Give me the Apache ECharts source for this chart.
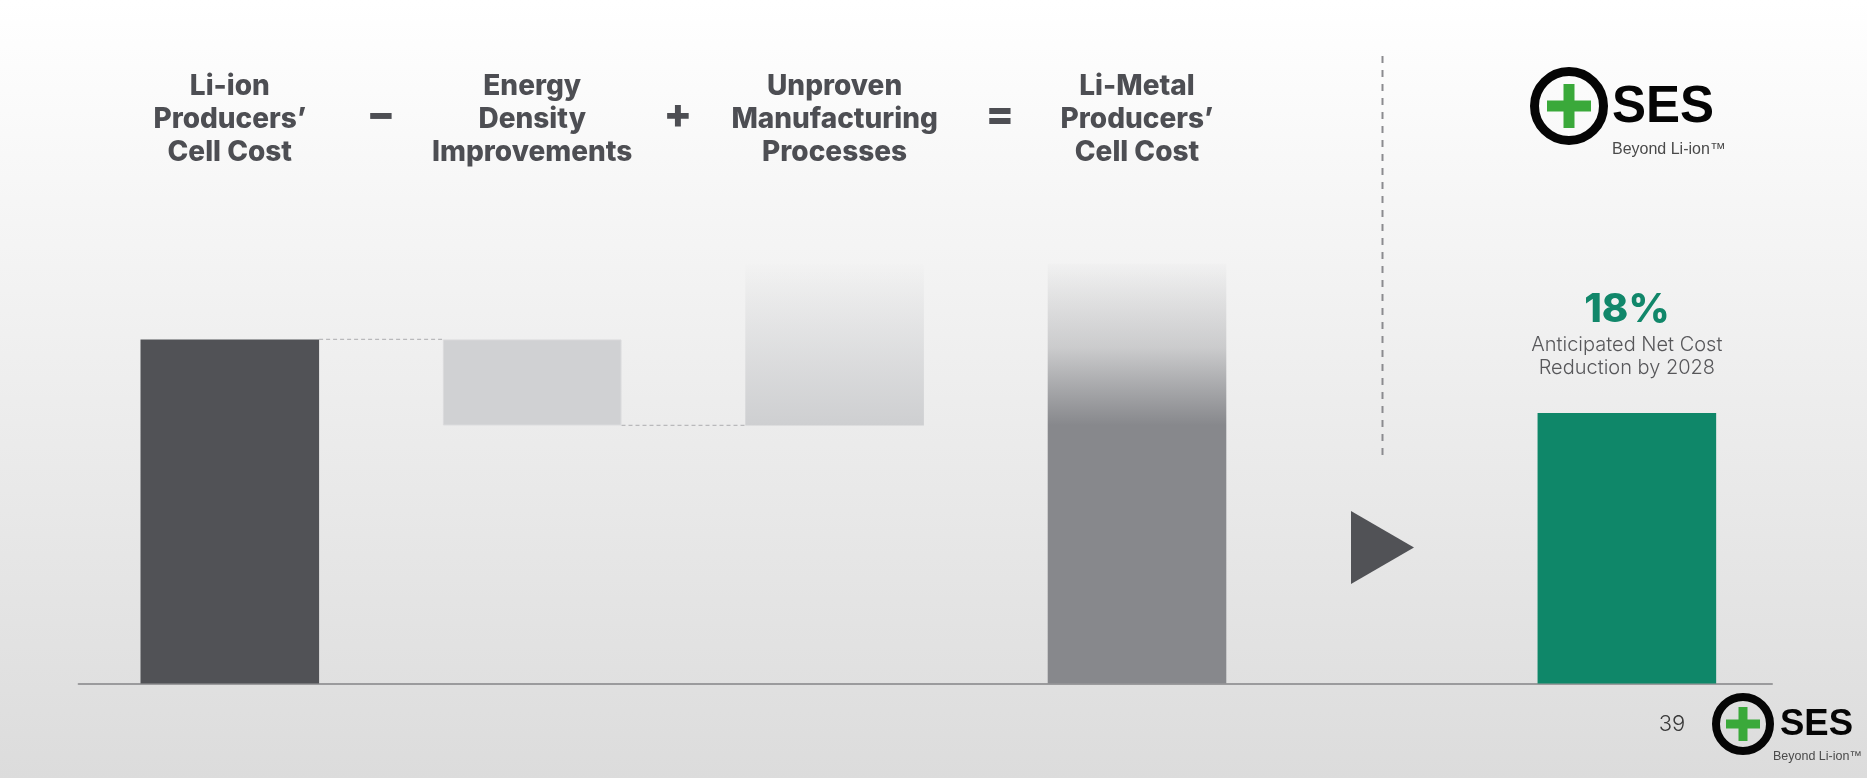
<!DOCTYPE html>
<html>
<head>
<meta charset="utf-8">
<title>Li-Metal cell cost build-up</title>
<script src="https://cdn.jsdelivr.net/npm/echarts@6/dist/echarts.min.js"></script>
<style>
  html, body { margin: 0; padding: 0; }
  #chart { width: 1867px; height: 778px; }
</style>
</head>
<body>
<div id="chart"></div>
<script>
// Column headers of the cost equation
const categories = [
  'Li-ion\nProducers’\nCell Cost',
  'Energy\nDensity\nImprovements',
  'Unproven\nManufacturing\nProcesses',
  'Li-Metal\nProducers’\nCell Cost'
];
// Waterfall segments, cost index with Li-ion cell cost = 100
const segmentLow  = [0, 75, 75, 0];
const segmentHigh = [100, 100, 122, 122];
// Dashed connectors: [from column, level]
const connectors = [[0, 100], [1, 75]];
// Signs placed between the headers
const operators = ['−', '+', '='];
// SES Li-Metal cell cost index (Li-ion = 100)
const liIonIndex = 100;
const sesCost = [82];

const FONT = 'Inter, "Noto Sans", sans-serif';
const LOGO_FONT = '"Liberation Sans", Arial, sans-serif';
const BAR_W = 178.6;
const DARK = '#515256';

const chart = echarts.init(document.getElementById('chart'), null, { renderer: 'canvas' });

const segmentStyles = [
  { color: DARK },
  { color: '#d0d1d3', borderColor: '#dadadc', borderWidth: 1 },
  { color: new echarts.graphic.LinearGradient(0, 0, 0, 1, [
      { offset: 0, color: 'rgba(208,209,211,0.02)' },
      { offset: 1, color: 'rgba(206,207,209,1)' }
    ]) },
  { color: new echarts.graphic.LinearGradient(0, 0, 0, 1, [
      { offset: 0, color: 'rgba(135,136,140,0.02)' },
      { offset: 0.2, color: 'rgba(135,136,140,0.35)' },
      { offset: 0.385, color: 'rgba(135,136,140,1)' },
      { offset: 1, color: 'rgba(135,136,140,1)' }
    ]) }
];

// SES brand mark: ring with a green plus, wordmark and tagline
function logo(m) {
  return {
    type: 'group',
    children: [
      { type: 'circle', shape: { cx: m.cx, cy: m.cy, r: m.r }, style: { fill: 'none', stroke: '#050505', lineWidth: m.ring } },
      { type: 'rect', shape: { x: m.cx - m.plusLen / 2, y: m.cy - m.plusW / 2, width: m.plusLen, height: m.plusW }, style: { fill: '#3aa93a' } },
      { type: 'rect', shape: { x: m.cx - m.plusW / 2, y: m.cy - m.plusLen / 2, width: m.plusW, height: m.plusLen }, style: { fill: '#3aa93a' } },
      { type: 'text', x: m.sesX, y: m.sesY, scaleX: m.sesScale,
        style: { text: 'SES', fill: '#050505', font: 'bold ' + m.sesSize + 'px ' + LOGO_FONT, textAlign: 'left', textVerticalAlign: 'middle' } },
      { type: 'text', x: m.tagX, y: m.tagY,
        style: { text: 'Beyond Li-ion™', fill: '#4a4a4a', font: m.tagSize + 'px ' + LOGO_FONT, textAlign: 'left', textVerticalAlign: 'middle' } }
    ]
  };
}

const operatorX = [381, 678, 1000];

const option = {
  backgroundColor: new echarts.graphic.LinearGradient(0, 0, 0, 1, [
    { offset: 0, color: '#ffffff' },
    { offset: 1, color: '#dcdcdc' }
  ]),
  animation: false,
  grid: [
    { left: 78.6, right: 578.8, top: 236.2, bottom: 94.5 },
    { left: 1288.2, right: 95, top: 254.6, bottom: 94.5 }
  ],
  xAxis: [
    { gridIndex: 0, type: 'category', data: categories, position: 'bottom',
      axisLine: { show: true, lineStyle: { color: '#9b9b9d', width: 2 } },
      axisTick: { show: false }, axisLabel: { show: false } },
    { gridIndex: 0, type: 'category', data: categories, position: 'top',
      axisLine: { show: false }, axisTick: { show: false },
      axisLabel: { interval: 0, margin: 67, fontFamily: FONT, fontSize: 28, fontWeight: 800,
                   lineHeight: 33, color: '#4d4e53', align: 'center' } },
    { gridIndex: 1, type: 'value', min: 0, max: 10, position: 'bottom',
      axisLine: { show: true, lineStyle: { color: '#9b9b9d', width: 2 } },
      axisTick: { show: false }, axisLabel: { show: false }, splitLine: { show: false } }
  ],
  yAxis: [
    { gridIndex: 0, type: 'value', min: 0, max: 130, show: false, splitLine: { show: false } },
    { gridIndex: 1, type: 'value', min: 0, max: 130, show: false, splitLine: { show: false } }
  ],
  series: [
    { name: 'base', type: 'bar', stack: 'w', xAxisIndex: 0, yAxisIndex: 0, barWidth: BAR_W, silent: true,
      itemStyle: { color: 'transparent' }, data: segmentLow },
    { name: 'segment', type: 'bar', stack: 'w', xAxisIndex: 0, yAxisIndex: 0, barWidth: BAR_W,
      data: segmentHigh.map((h, i) => ({ value: h - segmentLow[i], itemStyle: segmentStyles[i] })) },
    { name: 'connector', type: 'custom', xAxisIndex: 0, yAxisIndex: 0, silent: true, z: 1,
      data: connectors,
      renderItem: function (params, api) {
        const i = api.value(0), v = api.value(1);
        const a = api.coord([i, v]);
        const b = api.coord([i + 1, v]);
        return {
          type: 'line',
          shape: { x1: a[0] + BAR_W / 2, y1: a[1], x2: b[0] - BAR_W / 2, y2: b[1] },
          style: { stroke: '#b9b9bb', lineWidth: 1.2, lineDash: [4, 3] }
        };
      } },
    { name: 'SES', type: 'bar', xAxisIndex: 2, yAxisIndex: 1, barWidth: BAR_W,
      itemStyle: { color: '#0f8769' },
      data: sesCost.map(v => [7, v]),
      label: {
        show: true, position: 'top', distance: 33, align: 'center',
        formatter: function (p) {
          const cut = liIonIndex - p.value[1];
          return '{pct|' + cut + '%}\n{sub|Anticipated Net Cost}\n{sub|Reduction by 2028}';
        },
        rich: {
          pct: { fontFamily: FONT, fontSize: 40, fontWeight: 800, color: '#11876a', lineHeight: 48, align: 'center' },
          sub: { fontFamily: FONT, fontSize: 20, fontWeight: 300, color: '#57575a', lineHeight: 23, align: 'center' }
        }
      } }
  ],
  graphic: [
    // equation signs
    ...operators.map((op, i) => ({
      type: 'text', x: operatorX[i], y: 115,
      style: { text: op, fill: '#4d4e53', font: '800 42px ' + FONT, textAlign: 'center', textVerticalAlign: 'middle' }
    })),
    // divider between the cost build-up and the SES result
    { type: 'line', shape: { x1: 1382.5, y1: 56, x2: 1382.5, y2: 455 },
      style: { stroke: '#8b8b8f', lineWidth: 2, lineDash: [7, 7] } },
    // arrow towards the SES column
    { type: 'polygon', shape: { points: [[1351, 511], [1414, 547.5], [1351, 584]] }, style: { fill: DARK } },
    // brand marks
    logo({ cx: 1569, cy: 106, r: 34.5, ring: 9, plusLen: 44, plusW: 11,
           sesX: 1612, sesY: 108, sesSize: 51, sesScale: 1,
           tagX: 1612, tagY: 150, tagSize: 16 }),
    logo({ cx: 1743, cy: 724, r: 27, ring: 8, plusLen: 34, plusW: 9,
           sesX: 1780, sesY: 725, sesSize: 36.5, sesScale: 1,
           tagX: 1773, tagY: 756.5, tagSize: 12.5 }),
    // page number
    { type: 'text', x: 1672, y: 724,
      style: { text: '39', fill: '#3a3a3a', font: '300 22px ' + FONT, textAlign: 'center', textVerticalAlign: 'middle' } }
  ]
};

chart.setOption(option);
</script>
</body>
</html>
